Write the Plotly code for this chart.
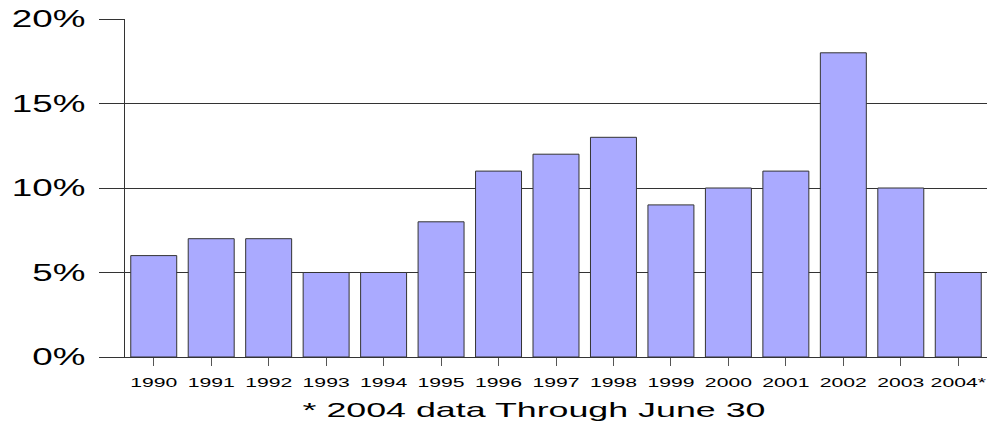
import plotly.graph_objects as go

years = ["1990", "1991", "1992", "1993", "1994", "1995", "1996", "1997",
         "1998", "1999", "2000", "2001", "2002", "2003", "2004*"]
values = [6, 7, 7, 5, 5, 8, 11, 12, 13, 9, 10, 11, 18, 10, 5]
y_ticks = [0, 5, 10, 15, 20]
y_labels = ["0%", "5%", "10%", "15%", "20%"]

fig = go.Figure(go.Bar(
    x=years, y=values,
    marker=dict(color="#AAAAFF", line=dict(color="#333333", width=1)),
    width=0.8,
))

fig.update_layout(
    width=989, height=425,
    margin=dict(l=125, r=2, t=19, b=68),
    plot_bgcolor="white", paper_bgcolor="white",
    font=dict(family="Liberation Sans, Arial, sans-serif", color="black"),
    showlegend=False,
    bargap=0.2,
)
fig.update_xaxes(
    type="category",
    tickfont=dict(size=13),
    ticks="outside", ticklen=8, tickcolor="#555555",
    ticklabelstandoff=5,
    showline=True, linecolor="#333333", linewidth=1,
    showgrid=False,
    title=dict(text="* 2004 data Through June 30", font=dict(size=20), standoff=14),
)
fig.update_yaxes(
    range=[0, 20], tickvals=y_ticks, ticktext=y_labels,
    tickfont=dict(size=23),
    ticks="outside", ticklen=25, tickcolor="#333333",
    ticklabelstandoff=9,
    showline=True, linecolor="#333333", linewidth=1,
    showgrid=True, gridcolor="#333333", gridwidth=1,
    zeroline=False,
)

post = """
document.body.style.margin = '0';
var gd = document.getElementById('{plot_id}');
function stretchText() {
  var specs = [['.xtick text', 1.63, 0], ['.ytick text', 1.6, 0], ['.g-xtitle text', 1.79, -22]];
  specs.forEach(function (sp) {
    gd.querySelectorAll(sp[0]).forEach(function (t) {
      var cur = t.getAttribute('transform') || '';
      if (t.getAttribute('data-st') === cur) return;
      var x = parseFloat(t.getAttribute('x')) || 0;
      var nt = cur + ' translate(' + (x + sp[2]) + ',0) scale(' + sp[1] + ',1) translate(' + (-x) + ',0)';
      t.setAttribute('transform', nt);
      t.setAttribute('data-st', nt);
    });
  });
}
stretchText();
gd.on('plotly_afterplot', stretchText);
setTimeout(stretchText, 50);
"""

fig.write_html("out.html", post_script=post, config={"displayModeBar": False})
